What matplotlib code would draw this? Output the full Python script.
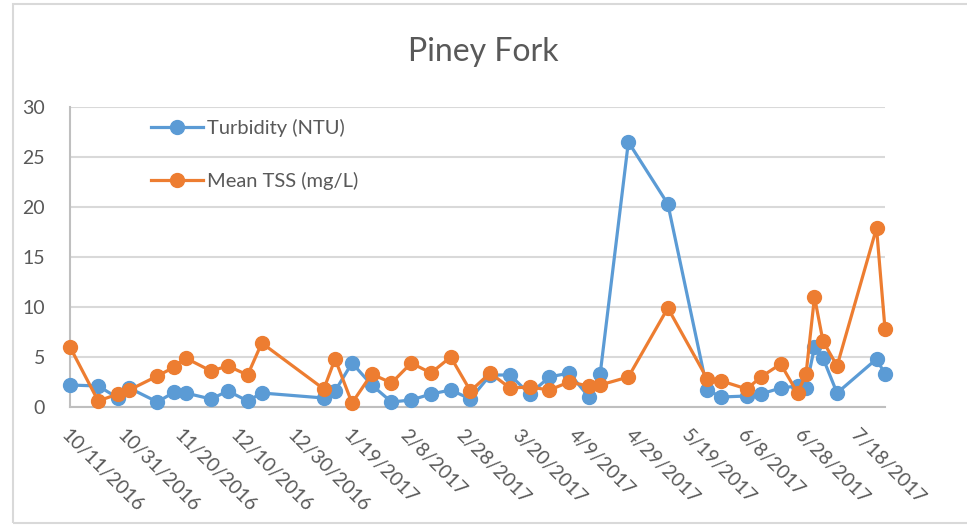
"""Piney Fork turbidity vs mean TSS line chart."""

import matplotlib
matplotlib.use("Agg")
import matplotlib.pyplot as plt
import pandas as pd
from matplotlib.patches import Rectangle

DATES = [
    "2016-10-11", "2016-10-21", "2016-10-28", "2016-11-01", "2016-11-11",
    "2016-11-17", "2016-11-21", "2016-11-30", "2016-12-06", "2016-12-13",
    "2016-12-18", "2017-01-09", "2017-01-13", "2017-01-19", "2017-01-26",
    "2017-02-02", "2017-02-09", "2017-02-16", "2017-02-23", "2017-03-02",
    "2017-03-09", "2017-03-16", "2017-03-23", "2017-03-30", "2017-04-06",
    "2017-04-13", "2017-04-17", "2017-04-27", "2017-05-11", "2017-05-25",
    "2017-05-30", "2017-06-08", "2017-06-13", "2017-06-20", "2017-06-26",
    "2017-06-29", "2017-07-02", "2017-07-05", "2017-07-10", "2017-07-24",
    "2017-07-27",
]
TURBIDITY = [
    2.2, 2.1, 0.9, 1.9, 0.5, 1.5, 1.4, 0.8, 1.6, 0.6,
    1.4, 0.9, 1.6, 4.4, 2.2, 0.5, 0.7, 1.3, 1.7, 0.8,
    3.2, 3.2, 1.3, 3.0, 3.4, 1.0, 3.3, 26.5, 20.3, 1.7,
    1.0, 1.1, 1.3, 1.9, 2.1, 1.9, 6.0, 4.9, 1.4, 4.8,
    3.3,
]
MEAN_TSS = [
    6.0, 0.6, 1.3, 1.7, 3.1, 4.0, 4.9, 3.6, 4.1, 3.2,
    6.4, 1.8, 4.8, 0.4, 3.3, 2.4, 4.4, 3.4, 5.0, 1.6,
    3.4, 1.9, 2.0, 1.7, 2.5, 2.1, 2.2, 3.0, 9.9, 2.8,
    2.6, 1.8, 3.0, 4.3, 1.4, 3.3, 11.0, 6.6, 4.1, 17.9,
    7.8,
]
SERIES_LABELS = ["Turbidity (NTU)", "Mean TSS (mg/L)"]
TITLE = "Piney Fork"
Y_TICKS = [0, 5, 10, 15, 20, 25, 30]

BLUE = "#5B9BD5"
ORANGE = "#ED7D31"
GRID = "#D9D9D9"
TEXT = "#595959"

plt.rcParams["font.family"] = ["Lato", "DejaVu Sans"]

W, H = 967, 526
fig = plt.figure(figsize=(W / 100, H / 100), dpi=100)
ax = fig.add_axes([70 / W, 1 - 407 / H, (885 - 70) / W, 300 / H])

dates = pd.to_datetime(DATES)
ax.plot(dates, TURBIDITY, color=BLUE, lw=2.3, marker="o", ms=10,
        label=SERIES_LABELS[0], zorder=3, clip_on=False)
ax.plot(dates, MEAN_TSS, color=ORANGE, lw=2.3, marker="o", ms=10,
        label=SERIES_LABELS[1], zorder=4, clip_on=False)

ax.set_xlim(dates[0], dates[-1])
ax.set_ylim(0, 30)
ax.set_yticks(Y_TICKS)
ax.yaxis.grid(True, color=GRID, lw=1.5)
ax.set_axisbelow(True)

ticks = pd.date_range("2016-10-11", "2017-07-18", freq="20D")
ax.set_xticks(ticks)
ax.set_xticklabels([f"{d.month}/{d.day}/{d.year}" for d in ticks],
                   rotation=-45, ha="left", va="top", rotation_mode="anchor")
ax.tick_params(axis="both", length=0, labelsize=14, colors=TEXT)
ax.tick_params(axis="x", pad=14)
ax.tick_params(axis="y", pad=18)

for side in ["top", "right"]:
    ax.spines[side].set_visible(False)
for side in ["left", "bottom"]:
    ax.spines[side].set_color("#BFBFBF")
    ax.spines[side].set_linewidth(1.5)

ax.legend(loc="upper left", bbox_to_anchor=(0.077, 1.02), frameon=False,
          fontsize=14.5, labelcolor=TEXT, labelspacing=1.75, handlelength=2.6,
          handletextpad=0.2)

fig.text(0.5, 1 - 52 / H, TITLE, ha="center", va="center",
         fontsize=23, color=TEXT)

fig.patches.append(Rectangle((13 / W, 3 / H), 1.0, 519 / H,
                             transform=fig.transFigure, fill=False,
                             edgecolor=GRID, lw=1.5))

fig.savefig("out.png", dpi=100)
